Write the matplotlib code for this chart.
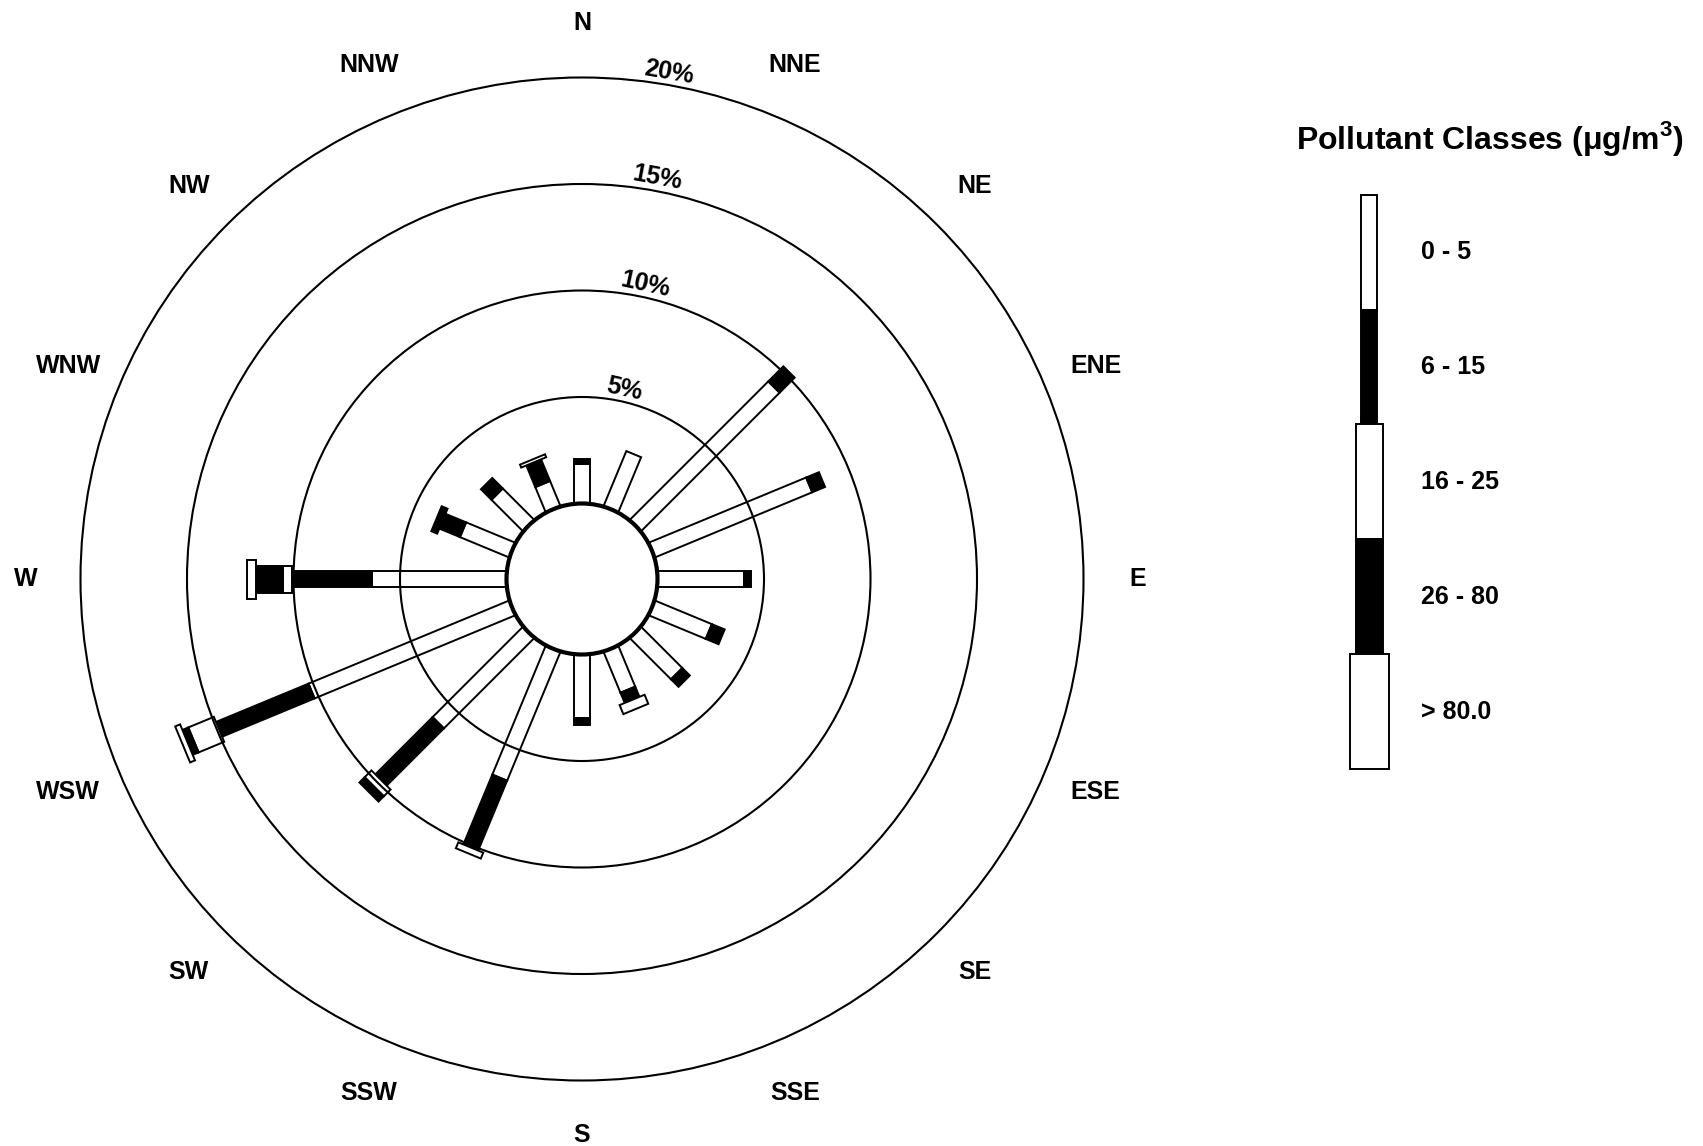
import numpy as np
import matplotlib
matplotlib.use("Agg")
import matplotlib.pyplot as plt
from matplotlib.patches import Polygon, Circle, Rectangle

plt.rcParams["font.family"] = ["Liberation Sans", "DejaVu Sans"]
plt.rcParams["font.weight"] = "bold"
plt.rcParams["mathtext.fontset"] = "custom"
plt.rcParams["mathtext.bf"] = "Liberation Sans:bold"
plt.rcParams["mathtext.rm"] = "Liberation Sans:bold"

# wind directions, clockwise from north
directions = ["N", "NNE", "NE", "ENE", "E", "ESE", "SE", "SSE",
              "S", "SSW", "SW", "WSW", "W", "WNW", "NW", "NNW"]

# frequency (%) of each pollutant class per direction
class_labels = ["0 - 5", "6 - 15", "16 - 25", "26 - 80", "> 80.0"]
c_0_5 = [1.87, 2.8, 9.2, 8.0, 4.05, 2.9, 2.74, 2.08,
         2.96, 6.55, 6.0, 10.2, 6.3, 2.5, 2.09, 1.28]
c_6_15 = [0.2, 0.0, 1.0, 0.65, 0.35, 0.65, 0.5, 0.52,
          0.34, 3.55, 3.8, 4.7, 3.75, 1.05, 0.7, 1.1]
c_16_25 = [0.0, 0.0, 0.0, 0.0, 0.0, 0.0, 0.0, 0.46,
           0.0, 0.3, 0.45, 1.3, 0.42, 0.0, 0.0, 0.15]
c_26_80 = [0.0, 0.0, 0.0, 0.0, 0.0, 0.0, 0.0, 0.0,
           0.0, 0.0, 0.35, 0.3, 1.3, 0.3, 0.0, 0.0]
c_gt80 = [0.0, 0.0, 0.0, 0.0, 0.0, 0.0, 0.0, 0.0,
          0.0, 0.0, 0.0, 0.25, 0.4, 0.0, 0.0, 0.0]
classes = [c_0_5, c_6_15, c_16_25, c_26_80, c_gt80]

ring_pct = [5, 10, 15, 20]
ring_labels = ["5%", "10%", "15%", "20%"]

# style
PX = 21.3                 # pixels per percent
HOLE = 75.5 / PX          # calm circle radius
seg_fill = ["white", "black", "white", "black", "white"]
seg_width_px = [16, 16, 27, 27, 39]
ring_label_angle = [12.6, 12.2, 10.6, 9.7]
FS = 18

fig = plt.figure(figsize=(17.03, 11.46), dpi=100)
ax = fig.add_axes([(582 - 560) / 1703, (567 - 560) / 1146, 1120 / 1703, 1120 / 1146])
lim = 560 / PX
ax.set_xlim(-lim, lim)
ax.set_ylim(-lim, lim)
ax.axis("off")

for i, name in enumerate(directions):
    th = np.deg2rad(22.5 * i)
    u = np.array([np.sin(th), np.cos(th)])
    v = np.array([np.cos(th), -np.sin(th)])
    r = HOLE
    for k, vals in enumerate(classes):
        val = vals[i]
        if val <= 0:
            continue
        w = seg_width_px[k] / PX / 2
        pts = [r * u + w * v, (r + val) * u + w * v, (r + val) * u - w * v, r * u - w * v]
        ax.add_patch(Polygon(pts, closed=True, fc=seg_fill[k], ec="black", lw=1.4,
                             joinstyle="miter", zorder=2 + k * 0.01))
        r += val

    lr = 556 / PX
    ax.text(lr * np.sin(th), lr * np.cos(th), name, ha="center", va="center",
            fontsize=FS, fontweight="bold")

for p, lab, ang in zip(ring_pct, ring_labels, ring_label_angle):
    ax.add_patch(Circle((0, 0), HOLE + p, fill=False, ec="black", lw=1.5, zorder=3))
    t = np.deg2rad(ang)
    rr = HOLE + p + 0.6
    ax.text(rr * np.sin(t), rr * np.cos(t), lab, ha="center", va="center",
            rotation=-ang, fontsize=FS, fontweight="bold", zorder=5)

ax.add_patch(Circle((0, 0), HOLE, fc="white", ec="black", lw=3, zorder=4))

# legend drawn in pixel coordinates
lg = fig.add_axes([0, 0, 1, 1])
lg.set_xlim(0, 1703)
lg.set_ylim(1146, 0)
lg.axis("off")
lg.patch.set_alpha(0)

lx, ly0, lh = 1369, 194.6, 114.9
for k, lab in enumerate(class_labels):
    w = seg_width_px[k]
    y = ly0 + k * lh
    lg.add_patch(Rectangle((lx - w / 2, y), w, lh, fc=seg_fill[k], ec="black", lw=1.4))
    lg.text(1421, y + lh / 2, lab, ha="left", va="center", fontsize=FS, fontweight="bold")

lg.text(1490, 138, r"Pollutant Classes (μg/m$^{\mathbf{3}}$)", ha="center", va="center",
        fontsize=23, fontweight="bold")

fig.savefig("out.png", dpi=100, facecolor="white")
